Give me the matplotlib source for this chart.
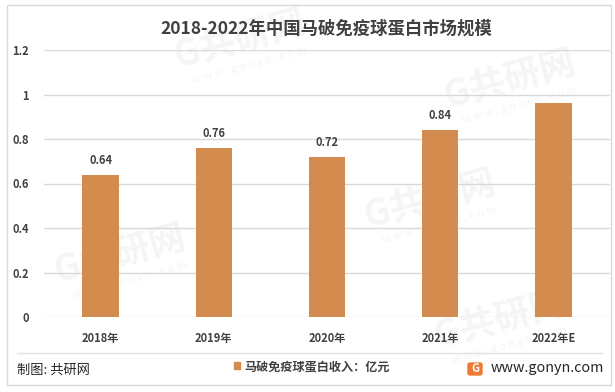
import matplotlib

matplotlib.use("Agg")
import matplotlib.pyplot as plt
from matplotlib.patches import Rectangle, FancyBboxPatch
from matplotlib.lines import Line2D

plt.rcParams["font.family"] = ["Noto Sans CJK SC", "DejaVu Sans"]

years = ["2018年", "2019年", "2020年", "2021年", "2022年E"]
revenue = [0.64, 0.76, 0.72, 0.84, 0.96]
shown_labels = ["0.64", "0.76", "0.72", "0.84", ""]
y_ticks = [0, 0.2, 0.4, 0.6, 0.8, 1.0, 1.2]
y_tick_labels = ["0", "0.2", "0.4", "0.6", "0.8", "1", "1.2"]

bar_color = "#D48C4E"
text_color = "#404040"

W, H = 615, 392
fig = plt.figure(figsize=(W / 100, H / 100), dpi=100)


def fx(px):
    return px / W


def fy(py):
    return 1 - py / H


# faint watermarks in the background
for wx, wy in [(240, 40), (510, 80), (430, 200), (120, 255), (500, 320)]:
    fig.text(fx(wx), fy(wy), "G共研网", ha="center", va="center", fontsize=26, fontweight="bold",
             color="#F5F5F5", rotation=15, zorder=0)
    fig.text(fx(wx + 10), fy(wy + 25), "w w w . g o n y n . c o m", ha="center", va="center",
             fontsize=8, color="#F5F5F5", rotation=15, zorder=0)

# outer frame
fig.add_artist(Rectangle((fx(7), fy(385)), fx(604), 380 / H, transform=fig.transFigure,
                         fill=False, edgecolor="#D9D9D9", linewidth=1))

ax = fig.add_axes([fx(44), fy(317), fx(566), 267 / H])
ax.set_zorder(2)
ax.patch.set_alpha(0)
x = range(len(years))
bars = ax.bar(x, revenue, width=0.32, color=bar_color, zorder=3)

for bar, label in zip(bars, shown_labels):
    if label:
        ax.text(bar.get_x() + bar.get_width() / 2, bar.get_height() + 0.035, label,
                ha="center", va="bottom", fontsize=8, fontweight="bold", color=text_color)

ax.set_xlim(-0.5, len(years) - 0.5)
ax.set_ylim(0, 1.2)
ax.set_yticks(y_ticks)
ax.set_yticklabels(y_tick_labels, fontweight="bold")
ax.set_xticks(list(x))
ax.set_xticklabels(years, fontweight="bold")
ax.tick_params(axis="y", length=0, pad=11, labelsize=8, labelcolor=text_color)
ax.tick_params(axis="x", length=0, pad=11, labelsize=8, labelcolor=text_color)
ax.grid(axis="y", color="#D9D9D9", linewidth=1, zorder=0)
for spine in ax.spines.values():
    spine.set_visible(False)

fig.text(fx(326), fy(29), "2018-2022年中国马破免疫球蛋白市场规模", ha="center", va="center",
         fontsize=12.5, fontweight="bold", color=text_color, zorder=3)

# footer
fig.add_artist(Line2D([fx(17), fx(602)], [fy(353), fy(353)], transform=fig.transFigure,
                      color="#E3E3E3", linewidth=1, zorder=3))
fig.text(fx(17), fy(370), "制图: 共研网", ha="left", va="center", fontsize=9.5, color="#262626", zorder=3)
fig.add_artist(Rectangle((fx(234), fy(369)), fx(6), 7 / H, transform=fig.transFigure,
                         color=bar_color, zorder=3))
fig.text(fx(244), fy(367), "马破免疫球蛋白收入：亿元", ha="left", va="center", fontsize=8.7,
         fontweight="bold", color=text_color, zorder=3)
fig.add_artist(FancyBboxPatch((fx(468), fy(375)), fx(14), 12 / H, transform=fig.transFigure,
                              boxstyle="round,pad=0,rounding_size=0.004", color="#EE7A35", zorder=3))
fig.text(fx(475), fy(369), "G", ha="center", va="center", fontsize=8, fontweight="bold",
         color="white", zorder=4)
fig.text(fx(491), fy(368), "www.gonyn.com", ha="left", va="center", fontsize=10.3, color="#262626",
         zorder=3)

fig.savefig("out.png", dpi=100)
plt.close(fig)
